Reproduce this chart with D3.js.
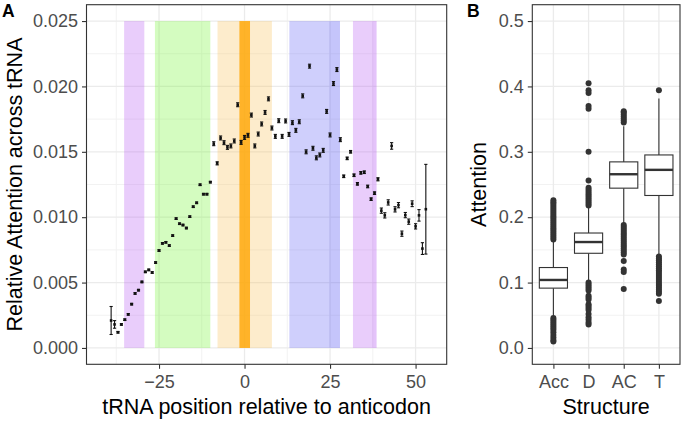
<!DOCTYPE html>
<html lang="en">
<head>
<meta charset="UTF-8">
<title>tRNA attention</title>
<script src="https://d3js.org/d3.v7.min.js"></script>
<style>
  body { margin: 0; background: #fff; }
  svg { display: block; font-family: "Liberation Sans", Arial, sans-serif; }
  .tick text { fill: #4d4d4d; font-size: 18px; }
  .tick line { stroke: #333; stroke-width: 1.1; }
  .title { fill: #000; font-size: 21.5px; }
  .tag { font-size: 17.5px; font-weight: bold; }
</style>
</head>
<body>
<svg id="chart" width="682" height="421"></svg>
<script>
// ---- panel A data: position relative to anticodon, mean relative attention, error
const positions = [-39, -38, -37, -36, -35, -34, -33, -32, -31, -30, -29, -28, -27, -26, -25, -24, -23, -22, -21, -20,
  -19, -18, -17, -16, -15, -14, -13, -12, -11, -10, -9, -8, -7, -6, -5, -4, -3, -2, -1, 0,
  1, 2, 3, 4, 5, 6, 7, 8, 9, 10, 11, 12, 13, 14, 15, 16, 17, 18, 19, 20,
  21, 22, 23, 24, 25, 26, 27, 28, 29, 30, 31, 32, 33, 34, 35, 36, 37, 38, 39, 40,
  41, 42, 43, 44, 45, 46, 47, 48, 49, 50, 51, 52, 53];
const attention = [0.0021, 0.0018, 0.0012, 0.0018, 0.00216, 0.00257, 0.00335, 0.00417, 0.00442, 0.00505,
  0.00582, 0.00597, 0.00577, 0.00653, 0.00745, 0.0080, 0.00808, 0.00783, 0.00859, 0.00989,
  0.0095, 0.0094, 0.00917, 0.01004, 0.0108, 0.0111, 0.01248, 0.01176, 0.01176, 0.01268,
  0.01562, 0.01412, 0.01606, 0.0157, 0.01534, 0.01545, 0.01583, 0.0186, 0.01572, 0.0161,
  0.01626, 0.01781, 0.01545, 0.01636, 0.01713, 0.01801, 0.01905, 0.01682, 0.01618, 0.01738,
  0.01618, 0.01736, 0.01633, 0.01723, 0.01664, 0.0173, 0.01928, 0.015, 0.02155, 0.01527,
  0.01454, 0.01476, 0.01511, 0.01809, 0.01629, 0.02022, 0.02129, 0.01593, 0.01313, 0.0145,
  0.015, 0.01321, 0.01255, 0.01339, 0.01344, 0.01235, 0.01138, 0.01184, 0.0129, 0.0105,
  0.01014, 0.01113, 0.01545, 0.0106, 0.01092, 0.00874, 0.01016, 0.00966, 0.01103, 0.0093,
  0.01014, 0.0076, 0.01061];
const attentionErr = [0.00107, 0.00029, 0.00006, 0.00006, 0.00006, 0.00006, 0.00006, 0.00006, 0.00006, 0.00006,
  0.00006, 0.00006, 0.00006, 0.00006, 0.00006, 0.00006, 0.00006, 0.00006, 0.00006, 0.00006,
  0.00006, 0.00006, 0.00006, 0.00006, 0.00006, 0.00006, 0.00006, 0.00006, 0.00006, 0.00006,
  0.00015, 0.00012, 0.00015, 0.00015, 0.00015, 0.00015, 0.00015, 0.00015, 0.00015, 0.00015,
  0.00015, 0.00015, 0.00015, 0.00015, 0.00015, 0.00015, 0.00015, 0.00015, 0.00015, 0.00015,
  0.00015, 0.00015, 0.00015, 0.00015, 0.00015, 0.00015, 0.00015, 0.00015, 0.00015, 0.00015,
  0.00015, 0.00015, 0.00015, 0.00015, 0.00015, 0.00015, 0.00015, 0.00015, 0.0001, 0.0001,
  0.0001, 0.0001, 0.0001, 0.0001, 0.0001, 0.0001, 0.0001, 0.0001, 0.00012, 0.0002,
  0.0002, 0.0002, 0.00025, 0.0002, 0.0002, 0.0002, 0.0002, 0.0002, 0.00022, 0.0002,
  0.00044, 0.00045, 0.00343];

// structural regions shaded behind the points
const bands = [
  { from: -35.2, to: -29.3, region: "acc" },
  { from: -26.2, to: -10.0, region: "d" },
  { from: -7.9, to: 8.0, region: "ac" },
  { from: -1.5, to: 1.6, region: "anticodon" },
  { from: 13.1, to: 27.9, region: "t" },
  { from: 31.7, to: 38.6, region: "acc" }
];
const bandOverlaps = [
  { from: 24.8, to: 27.9, region: "t" },
  { from: 37.3, to: 38.6, region: "acc" }
];
const bandTop = 0.025;

const xTicksA = [-25, 0, 25, 50];
const xMinorA = [-37.5, -12.5, 12.5, 37.5];
const yTicksA = [0, 0.005, 0.01, 0.015, 0.02, 0.025];
const yMinorA = [0.0025, 0.0075, 0.0125, 0.0175, 0.0225];

// ---- panel B data: boxplot summaries per structure
const structures = ["Acc", "D", "AC", "T"];
const whiskerLow = [0.049, 0.103, 0.19, 0.143];
const q1 = [0.0915, 0.1448, 0.2444, 0.2332];
const medians = [0.104, 0.162, 0.2657, 0.2724];
const q3 = [0.123, 0.1758, 0.2846, 0.2952];
const whiskerHigh = [0.163, 0.215, 0.339, 0.3815];
const outliers = {
  Acc: [0.166, 0.169, 0.172, 0.175, 0.178, 0.181, 0.184, 0.187, 0.19, 0.193, 0.196, 0.199, 0.202, 0.205,
    0.208, 0.211, 0.214, 0.217, 0.22, 0.223, 0.226, 0.046, 0.043, 0.04, 0.037, 0.034, 0.031, 0.028,
    0.024, 0.02, 0.016, 0.012, 0.01],
  D: [0.218, 0.221, 0.224, 0.227, 0.23, 0.233, 0.236, 0.239, 0.242, 0.245, 0.256, 0.3, 0.366, 0.37,
    0.39, 0.394, 0.405, 0.1, 0.097, 0.094, 0.091, 0.088, 0.08, 0.077, 0.074, 0.067, 0.064, 0.061,
    0.058, 0.052, 0.047, 0.043, 0.039, 0.036],
  AC: [0.345, 0.348, 0.351, 0.354, 0.357, 0.36, 0.362, 0.188, 0.185, 0.182, 0.179, 0.176, 0.173, 0.17,
    0.167, 0.164, 0.161, 0.158, 0.155, 0.152, 0.149, 0.146, 0.143, 0.133, 0.12, 0.116, 0.09],
  T: [0.394, 0.14, 0.137, 0.134, 0.131, 0.128, 0.125, 0.122, 0.119, 0.116, 0.113, 0.11, 0.107, 0.104,
    0.101, 0.098, 0.095, 0.092, 0.089, 0.086, 0.083, 0.072]
};
const yTicksB = [0, 0.1, 0.2, 0.3, 0.4, 0.5];
const yMinorB = [0.05, 0.15, 0.25, 0.35, 0.45];

const svg = d3.select("#chart");
const plotTop = 4.7, plotBottom = 364.3;
const minus = d => d < 0 ? "\u2212" + Math.abs(d) : String(d);

const regionColor = {
  acc: "#b658f2",
  d: "#70f52d",
  ac: "#f9c055",
  anticodon: "#ffa500",
  t: "#5f5ff5"
};

// ================= panel A =================
const A = { left: 86.5, right: 446.7 };
const xA = d3.scaleLinear().domain([-46.2, 59.1]).range([A.left, A.right]);
const yA = d3.scaleLinear().domain([-0.00125, 0.02625]).range([plotBottom, plotTop]);

const gA = svg.append("g");

gA.selectAll("line.minorx").data(xMinorA).enter().append("line")
  .attr("x1", d => xA(d)).attr("x2", d => xA(d)).attr("y1", plotTop).attr("y2", plotBottom)
  .attr("stroke", "#f2f2f2").attr("stroke-width", 1);
gA.selectAll("line.minory").data(yMinorA).enter().append("line")
  .attr("x1", A.left).attr("x2", A.right).attr("y1", d => yA(d)).attr("y2", d => yA(d))
  .attr("stroke", "#f2f2f2").attr("stroke-width", 1);
gA.selectAll("line.majorx").data(xTicksA).enter().append("line")
  .attr("x1", d => xA(d)).attr("x2", d => xA(d)).attr("y1", plotTop).attr("y2", plotBottom)
  .attr("stroke", "#ebebeb").attr("stroke-width", 1.3);
gA.selectAll("line.majory").data(yTicksA).enter().append("line")
  .attr("x1", A.left).attr("x2", A.right).attr("y1", d => yA(d)).attr("y2", d => yA(d))
  .attr("stroke", "#ebebeb").attr("stroke-width", 1.3);

gA.selectAll("rect.band").data(bands).enter().append("rect")
  .attr("x", d => xA(d.from)).attr("width", d => xA(d.to) - xA(d.from))
  .attr("y", yA(bandTop)).attr("height", yA(0) - yA(bandTop))
  .attr("fill", d => regionColor[d.region])
  .attr("fill-opacity", d => d.region === "anticodon" ? 0.8 : 0.3);
gA.selectAll("rect.overlap").data(bandOverlaps).enter().append("rect")
  .attr("x", d => xA(d.from)).attr("width", d => xA(d.to) - xA(d.from))
  .attr("y", yA(bandTop)).attr("height", yA(0) - yA(bandTop))
  .attr("fill", d => regionColor[d.region]).attr("fill-opacity", 0.08);

const pts = positions.map((p, i) => ({ x: p, y: attention[i], e: attentionErr[i] }));

const bars = gA.selectAll("g.err").data(pts).enter().append("g")
  .attr("stroke", "#111").attr("stroke-width", 1.1);
bars.append("line")
  .attr("x1", d => xA(d.x)).attr("x2", d => xA(d.x))
  .attr("y1", d => yA(d.y - d.e)).attr("y2", d => yA(d.y + d.e));
bars.append("line")
  .attr("x1", d => xA(d.x) - 1.6).attr("x2", d => xA(d.x) + 1.6)
  .attr("y1", d => yA(d.y - d.e)).attr("y2", d => yA(d.y - d.e));
bars.append("line")
  .attr("x1", d => xA(d.x) - 1.6).attr("x2", d => xA(d.x) + 1.6)
  .attr("y1", d => yA(d.y + d.e)).attr("y2", d => yA(d.y + d.e));

gA.selectAll("rect.pt").data(pts).enter().append("rect")
  .attr("x", d => xA(d.x) - 1.3).attr("y", d => yA(d.y) - 1.3)
  .attr("width", 2.6).attr("height", 2.6).attr("fill", "#111");

gA.append("rect").attr("x", A.left).attr("y", plotTop)
  .attr("width", A.right - A.left).attr("height", plotBottom - plotTop)
  .attr("fill", "none").attr("stroke", "#333").attr("stroke-width", 1.1);

gA.append("g").attr("transform", `translate(0,${plotBottom})`)
  .call(d3.axisBottom(xA).tickValues(xTicksA).tickSize(4.5).tickPadding(6).tickFormat(minus))
  .call(g => g.select(".domain").remove());
gA.append("g").attr("transform", `translate(${A.left},0)`)
  .call(d3.axisLeft(yA).tickValues(yTicksA).tickSize(4.5).tickPadding(4).tickFormat(d3.format(".3f")))
  .call(g => g.select(".domain").remove());

gA.append("text").attr("class", "title")
  .attr("x", (A.left + A.right) / 2).attr("y", 414).attr("text-anchor", "middle")
  .text("tRNA position relative to anticodon");
gA.append("text").attr("class", "title")
  .attr("transform", `translate(22,${(plotTop + plotBottom) / 2}) rotate(-90)`).attr("text-anchor", "middle")
  .text("Relative Attention across tRNA");
gA.append("text").attr("class", "tag").attr("x", 2).attr("y", 17).text("A");

// ================= panel B =================
const B = { left: 532.3, right: 680 };
const xB = d3.scalePoint().domain(structures).range([B.left, B.right]).padding(0.6);
const yB = d3.scaleLinear().domain([-0.025, 0.525]).range([plotBottom, plotTop]);
const boxW = xB.step() * 0.8;

const gB = svg.append("g");
gB.selectAll("line.minory").data(yMinorB).enter().append("line")
  .attr("x1", B.left).attr("x2", B.right).attr("y1", d => yB(d)).attr("y2", d => yB(d))
  .attr("stroke", "#f2f2f2").attr("stroke-width", 1);
gB.selectAll("line.majory").data(yTicksB).enter().append("line")
  .attr("x1", B.left).attr("x2", B.right).attr("y1", d => yB(d)).attr("y2", d => yB(d))
  .attr("stroke", "#ebebeb").attr("stroke-width", 1.3);
gB.selectAll("line.majorx").data(structures).enter().append("line")
  .attr("x1", d => xB(d)).attr("x2", d => xB(d)).attr("y1", plotTop).attr("y2", plotBottom)
  .attr("stroke", "#ebebeb").attr("stroke-width", 1.3);

const boxes = structures.map((s, i) => ({
  s, lo: whiskerLow[i], q1: q1[i], med: medians[i], q3: q3[i], hi: whiskerHigh[i], out: outliers[s]
}));

const bx = gB.selectAll("g.box").data(boxes).enter().append("g")
  .attr("stroke", "#333").attr("stroke-width", 1.1);
bx.append("line")
  .attr("x1", d => xB(d.s)).attr("x2", d => xB(d.s))
  .attr("y1", d => yB(d.hi)).attr("y2", d => yB(d.q3));
bx.append("line")
  .attr("x1", d => xB(d.s)).attr("x2", d => xB(d.s))
  .attr("y1", d => yB(d.q1)).attr("y2", d => yB(d.lo));
bx.append("rect")
  .attr("x", d => xB(d.s) - boxW / 2).attr("width", boxW)
  .attr("y", d => yB(d.q3)).attr("height", d => yB(d.q1) - yB(d.q3))
  .attr("fill", "#fff");
bx.append("line")
  .attr("x1", d => xB(d.s) - boxW / 2).attr("x2", d => xB(d.s) + boxW / 2)
  .attr("y1", d => yB(d.med)).attr("y2", d => yB(d.med))
  .attr("stroke-width", 2.4);
bx.selectAll("circle").data(d => d.out.map(v => ({ s: d.s, v }))).enter().append("circle")
  .attr("cx", d => xB(d.s)).attr("cy", d => yB(d.v)).attr("r", 3)
  .attr("fill", "#333").attr("stroke", "none");

gB.append("rect").attr("x", B.left).attr("y", plotTop)
  .attr("width", B.right - B.left).attr("height", plotBottom - plotTop)
  .attr("fill", "none").attr("stroke", "#333").attr("stroke-width", 1.1);

gB.append("g").attr("transform", `translate(0,${plotBottom})`)
  .call(d3.axisBottom(xB).tickSize(4.5).tickPadding(6))
  .call(g => g.select(".domain").remove());
gB.append("g").attr("transform", `translate(${B.left},0)`)
  .call(d3.axisLeft(yB).tickValues(yTicksB).tickSize(4.5).tickPadding(4).tickFormat(d3.format(".1f")))
  .call(g => g.select(".domain").remove());

gB.append("text").attr("class", "title")
  .attr("x", (B.left + B.right) / 2).attr("y", 414).attr("text-anchor", "middle")
  .text("Structure");
gB.append("text").attr("class", "title")
  .attr("transform", `translate(486,${(plotTop + plotBottom) / 2}) rotate(-90)`).attr("text-anchor", "middle")
  .text("Attention");
gB.append("text").attr("class", "tag").attr("x", 467).attr("y", 17).text("B");
</script>
</body>
</html>
